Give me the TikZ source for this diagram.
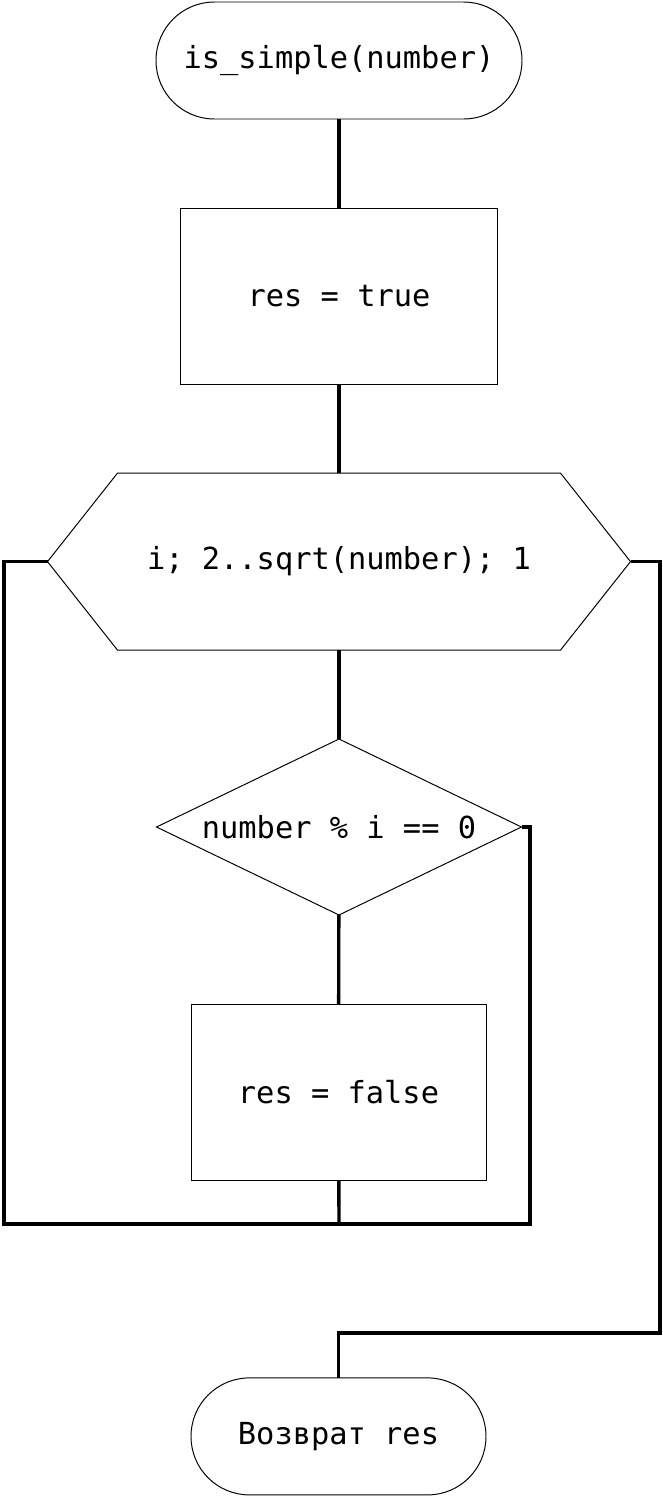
\documentclass[tikz,border=0pt]{standalone}
\usepackage{fontspec}
\setmonofont{DejaVu Sans Mono}
\usetikzlibrary{shapes.geometric}
\tikzset{
  every picture/.style={font=\ttfamily\fontsize{21.6}{26}\selectfont},
  blk/.style={draw, line width=0.7pt, inner sep=0pt, outer sep=0pt, align=center},
  term/.style={blk, rectangle, rounded corners=1.46cm, minimum height=2.925cm},
  proc/.style={blk, rectangle, minimum height=4.4cm},
  cycle/.style={inner sep=0pt, outer sep=0pt, rectangle, minimum width=14.575cm, minimum height=4.425cm},
  cond/.style={blk, diamond, aspect=2.07, minimum width=9.125cm, minimum height=4.4cm},
  link/.style={line width=2.4pt},
}

\begin{document}
\begin{tikzpicture}
  \useasboundingbox (0,0) rectangle (16.575,-37.425);
  % blocks
  \node[term, minimum width=9.15cm] (start) at (8.475,-1.5125) {is\_simple(number)};
  \node[proc, minimum width=7.925cm] (init) at (8.475,-7.4) {res = true};
  \node[cycle] (loop) at (8.475,-14.04) {i; 2..sqrt(number); 1};
  \draw[line width=0.7pt] (loop.west) -- ([xshift=1.75cm]loop.north west)
    -- ([xshift=-1.75cm]loop.north east) -- (loop.east)
    -- ([xshift=-1.75cm]loop.south east) -- ([xshift=1.75cm]loop.south west) -- cycle;
  \node[cond] (check) at (8.475,-20.675) {number \% i == 0};
  \node[proc, minimum width=7.375cm] (fail) at (8.4625,-27.3) {res = false};
  \node[term, minimum width=7.375cm] (stop) at (8.4625,-35.91) {Возврат res};
  % corner points
  \coordinate (lb) at (0.1,-30.6);
  \coordinate (join) at (8.475,-30.6);
  \coordinate (rb) at (13.25,-30.6);
  \coordinate (exit) at (16.5,-33.325);
  % main flow
  \draw[link] (start) -- (init);
  \draw[link] (init) -- (loop);
  \draw[link] (loop) -- (check);
  \draw[link] (check) -- (fail);
  \draw[link] (fail) -- (join);
  % loop back and exit
  \draw[link] (loop.west) -| (lb) -- (rb) |- (check.east);
  \draw[link] (loop.east) -| (exit) -| (stop);
\end{tikzpicture}
\end{document}
